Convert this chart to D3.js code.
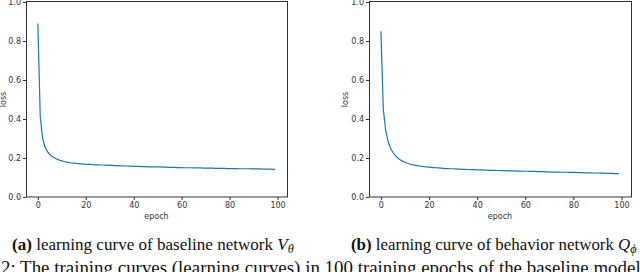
<!DOCTYPE html>
<html>
<head>
<meta charset="utf-8">
<script src="https://cdn.jsdelivr.net/npm/d3@7"></script>
<style>
  body { margin: 0; background: #fff; }
  svg { display: block; }
  .tick text { font-family: "DejaVu Sans", sans-serif; font-size: 8px; fill: #333; }
  .tick line { stroke: #333; }
  .lbl { font-family: "DejaVu Sans", sans-serif; font-size: 8px; fill: #333; }
  .cap { font-family: "Liberation Serif", "Times New Roman", serif; font-size: 14px; fill: #111; }
</style>
</head>
<body>
<script>
// loss per epoch (epoch = index 0..99)
var baselineLoss = [
  0.890, 0.410, 0.300, 0.256, 0.233, 0.218, 0.207, 0.200, 0.194, 0.189,
  0.185, 0.182, 0.179, 0.177, 0.175, 0.174, 0.172, 0.171, 0.170, 0.169,
  0.168, 0.167, 0.167, 0.166, 0.165, 0.165, 0.164, 0.164, 0.163, 0.163,
  0.162, 0.162, 0.161, 0.161, 0.160, 0.160, 0.159, 0.159, 0.158, 0.158,
  0.157, 0.157, 0.157, 0.156, 0.156, 0.156, 0.155, 0.155, 0.155, 0.154,
  0.154, 0.154, 0.153, 0.153, 0.153, 0.152, 0.152, 0.152, 0.151, 0.151,
  0.151, 0.150, 0.150, 0.150, 0.150, 0.149, 0.149, 0.149, 0.149, 0.148,
  0.148, 0.148, 0.148, 0.148, 0.147, 0.147, 0.147, 0.147, 0.147, 0.146,
  0.146, 0.146, 0.146, 0.146, 0.145, 0.145, 0.145, 0.145, 0.145, 0.144,
  0.144, 0.144, 0.144, 0.144, 0.143, 0.143, 0.143, 0.143, 0.142, 0.142
];
var behaviorLoss = [
  0.850, 0.450, 0.340, 0.285, 0.250, 0.228, 0.212, 0.200, 0.191, 0.184,
  0.178, 0.173, 0.169, 0.166, 0.163, 0.161, 0.159, 0.157, 0.156, 0.154,
  0.153, 0.152, 0.151, 0.150, 0.149, 0.148, 0.147, 0.146, 0.146, 0.145,
  0.145, 0.144, 0.143, 0.143, 0.142, 0.142, 0.141, 0.141, 0.140, 0.140,
  0.139, 0.139, 0.139, 0.138, 0.138, 0.137, 0.137, 0.137, 0.136, 0.136,
  0.135, 0.135, 0.135, 0.134, 0.134, 0.134, 0.133, 0.133, 0.133, 0.132,
  0.132, 0.132, 0.131, 0.131, 0.131, 0.130, 0.130, 0.130, 0.129, 0.129,
  0.129, 0.128, 0.128, 0.128, 0.128, 0.127, 0.127, 0.127, 0.126, 0.126,
  0.126, 0.126, 0.125, 0.125, 0.125, 0.124, 0.124, 0.124, 0.123, 0.123,
  0.123, 0.122, 0.122, 0.122, 0.121, 0.121, 0.121, 0.120, 0.120, 0.120
];
var xTicks = [0, 20, 40, 60, 80, 100];
var yTicks = [0.0, 0.2, 0.4, 0.6, 0.8, 1.0];
var xLabel = "epoch";
var yLabel = "loss";

var width = 640, height = 272;
var svg = d3.select("body").append("svg")
    .attr("width", width)
    .attr("height", height);

var panels = [
  { data: baselineLoss, left: 26, right: 287, ylab: 3, capX: 12, capW: 282, tag: "(a)",
    text: " learning curve of baseline network ", sym: "V", sub: "\u03b8" },
  { data: behaviorLoss, left: 369, right: 631, ylab: 345, capX: 351, capW: 286, tag: "(b)",
    text: " learning curve of behavior network ", sym: "Q", sub: "\u03d5" }
];
var plotTop = 2, plotBottom = 197;

panels.forEach(function(p) {
  var x = d3.scaleLinear().domain([-4.95, 103.95]).range([p.left, p.right]);
  var y = d3.scaleLinear().domain([0, 1]).range([plotBottom, plotTop]);
  var g = svg.append("g");

  g.append("path")
      .datum(p.data)
      .attr("fill", "none")
      .attr("stroke", "#1f77b4")
      .attr("stroke-width", 1.2)
      .attr("d", d3.line().x(function(d, i) { return x(i); }).y(function(d) { return y(d); }));

  g.append("g")
      .attr("transform", "translate(0," + plotBottom + ")")
      .call(d3.axisBottom(x).tickValues(xTicks).tickSize(3).tickPadding(2))
      .call(function(a) { a.select(".domain").remove(); });
  g.append("g")
      .attr("transform", "translate(" + p.left + ",0)")
      .call(d3.axisLeft(y).tickValues(yTicks).tickFormat(d3.format(".1f")).tickSize(3).tickPadding(2))
      .call(function(a) { a.select(".domain").remove(); });

  // frame
  g.append("rect")
      .attr("x", p.left + 0.5).attr("y", plotTop - 0.5)
      .attr("width", p.right - p.left).attr("height", plotBottom - plotTop + 0.5)
      .attr("fill", "none").attr("stroke", "#333").attr("stroke-width", 1);

  g.append("text").attr("class", "lbl")
      .attr("x", (p.left + p.right) / 2).attr("y", 219)
      .attr("text-anchor", "middle").text(xLabel);
  g.append("text").attr("class", "lbl")
      .attr("transform", "translate(" + p.ylab + "," + (plotTop + plotBottom) / 2 + ") rotate(-90)")
      .attr("text-anchor", "middle").attr("dy", "0.35em").text(yLabel);

  var cap = svg.append("text").attr("class", "cap").attr("x", p.capX).attr("y", 250);
  cap.append("tspan").attr("font-weight", "bold").text(p.tag);
  cap.append("tspan").text(p.text);
  cap.append("tspan").attr("font-style", "italic").text(p.sym);
  cap.append("tspan").attr("font-style", "italic").attr("font-size", "0.72em").attr("dy", "0.22em").text(p.sub);
  // fit caption to the width it takes in the figure
  var w = cap.node().getBBox().width;
  cap.style("font-size", (14 * p.capW / w) + "px");
});

var line2 = svg.append("text").attr("class", "cap").attr("x", 1).attr("y", 274);
var part1 = line2.append("tspan").text("2: The training curves (learning curves) in");
line2.append("tspan").text(" 100 training epochs of the baseline model and the behavior model.");
var w1 = part1.node().getComputedTextLength();
line2.style("font-size", (14 * 319 / w1) + "px");
</script>
</body>
</html>
